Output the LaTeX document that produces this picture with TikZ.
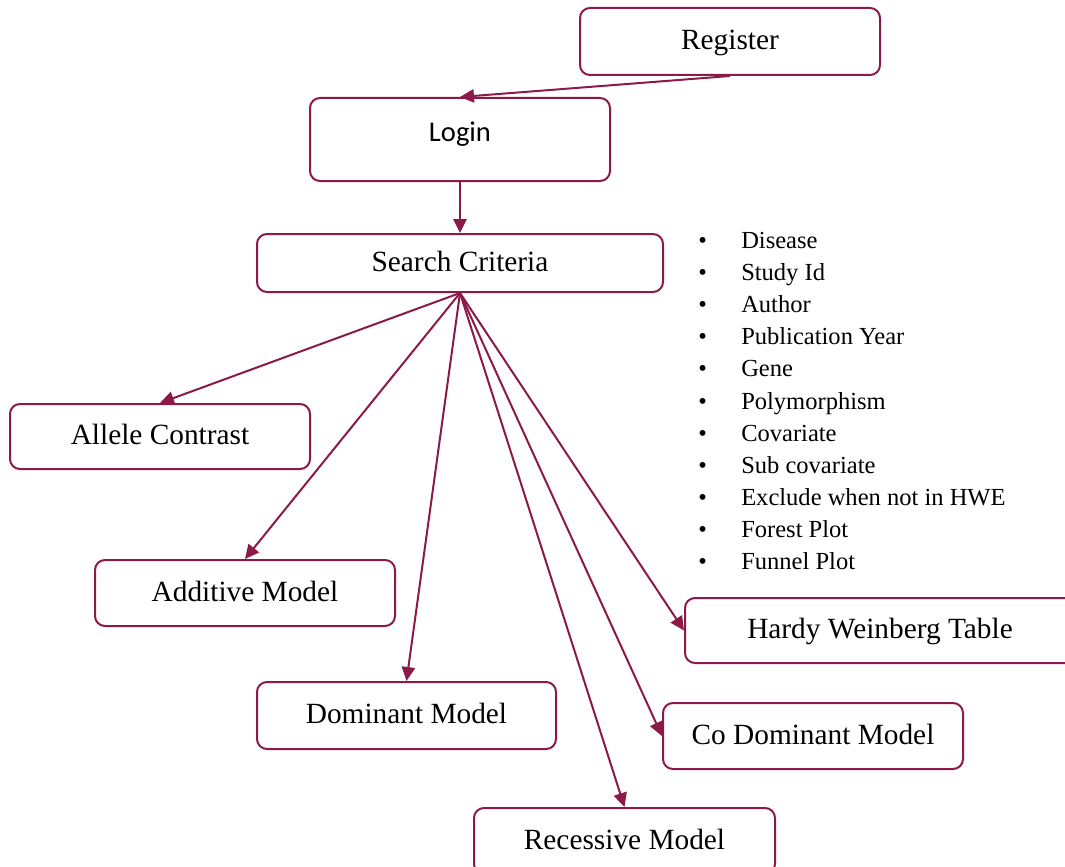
\documentclass[tikz,border=0pt]{standalone}
\usepackage{fontspec}
\setmainfont{Liberation Serif}
\newfontfamily\calib{Carlito}
\usetikzlibrary{arrows.meta}
\definecolor{maroon}{RGB}{140,26,72}
\begin{document}
\begin{tikzpicture}[x=0.75pt,y=-0.75pt,
  box/.style={draw=maroon, line width=1.5pt, rounded corners=7.5pt, fill=white,
    font=\fontsize{22}{26}\selectfont, text height=1.25em, text depth=0pt,
    inner sep=0pt, minimum width=225pt},
  conn/.style={draw=maroon, line width=1.5pt, -{Triangle[length=10.5pt,width=10pt]}}]
\useasboundingbox (0,0) rectangle (1065,867);
\node[box, minimum height=50.25pt] (reg) at (730,41.5) {Register};
\node[box, minimum height=62.25pt, label={[font=\calib\fontsize{21.4}{25}\selectfont, yshift=4pt]center:Login}] (login) at (460,139.5) {};
\node[box, minimum width=304.5pt, minimum height=43.5pt] (search) at (460,263) {Search Criteria};
\node[box, minimum height=48.75pt] (allele) at (160,436.5) {Allele Contrast};
\node[box, minimum height=49.5pt] (add) at (245,593) {Additive Model};
\node[box, minimum width=224.25pt, minimum height=50.25pt] (dom) at (406.5,715.5) {Dominant Model};
\node[box, minimum width=225.75pt, minimum height=49.5pt] (rec) at (624.5,841) {Recessive Model};
\node[box, minimum height=49.5pt] (codom) at (813,736) {Co Dominant Model};
\node[box, minimum width=292.5pt, minimum height=48.75pt] (hardy) at (880,630.5) {Hardy Weinberg Table};
\draw[conn] (reg.south) -- (login.north);
\draw[conn] (login.south) -- (search.north);
\draw[conn] (search.south) -- (allele.north);
\draw[conn] (search.south) -- (add.north);
\draw[conn] (search.south) -- (dom.north);
\draw[conn] (search.south) -- (rec.north);
\draw[conn] (search.south) -- (codom.west);
\draw[conn] (search.south) -- (hardy.west);
\node[anchor=base west, inner sep=0pt, font=\fontsize{18.4}{24.15}\selectfont] (list) at (698,248) {%
\begin{tabular}[t]{@{}l@{}l@{}}
\makebox[32.25pt][l]{\textbullet} & Disease\\
\makebox[32.25pt][l]{\textbullet} & Study Id\\
\makebox[32.25pt][l]{\textbullet} & Author\\
\makebox[32.25pt][l]{\textbullet} & Publication Year\\
\makebox[32.25pt][l]{\textbullet} & Gene\\
\makebox[32.25pt][l]{\textbullet} & Polymorphism\\
\makebox[32.25pt][l]{\textbullet} & Covariate\\
\makebox[32.25pt][l]{\textbullet} & Sub covariate\\
\makebox[32.25pt][l]{\textbullet} & Exclude when not in HWE\\
\makebox[32.25pt][l]{\textbullet} & Forest Plot\\
\makebox[32.25pt][l]{\textbullet} & Funnel Plot
\end{tabular}};
\end{tikzpicture}
\end{document}
